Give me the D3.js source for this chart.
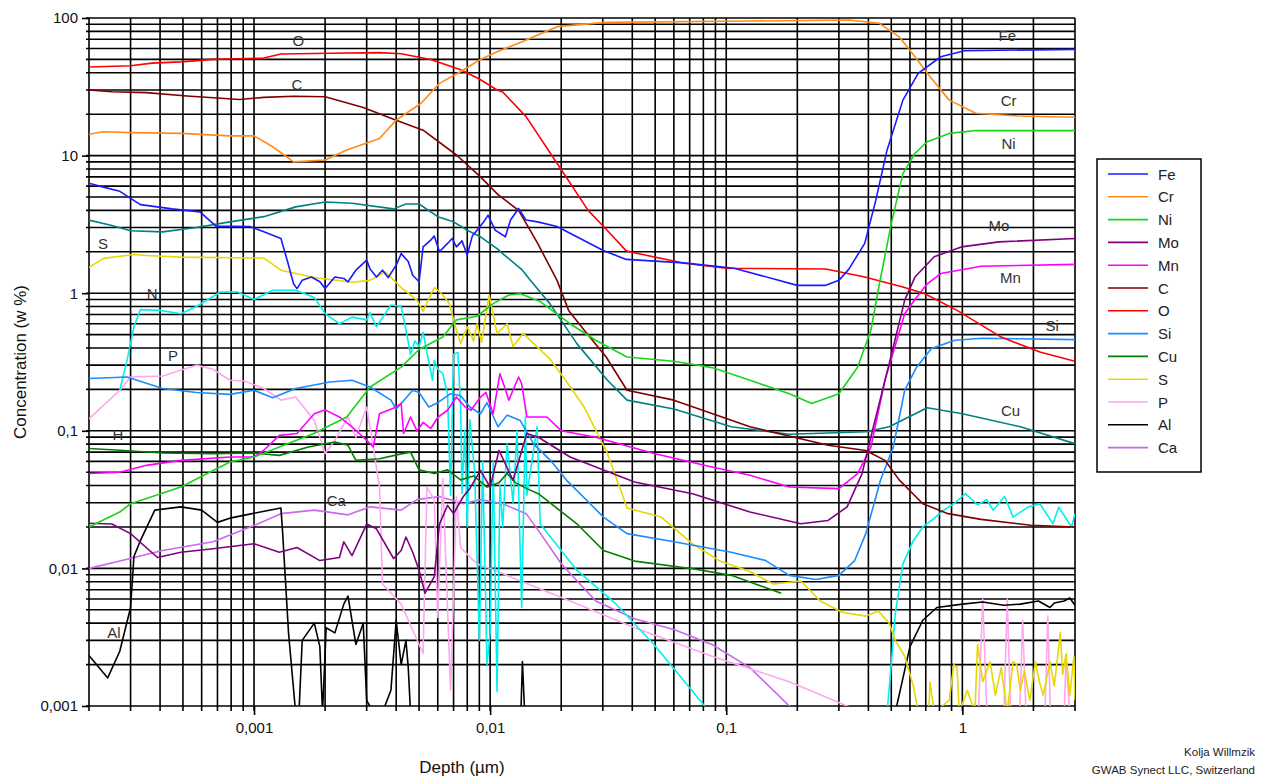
<!DOCTYPE html>
<html>
<head>
<meta charset="utf-8">
<script src="https://cdn.jsdelivr.net/npm/d3@7"></script>
<style>
  body { margin: 0; background: #fff; }
  text { font-family: Arial, "Liberation Sans", sans-serif; }
</style>
</head>
<body>
<svg id="chart" width="1265" height="778"></svg>
<script>
// tick labels (german decimal comma)
const xTicks = [0.001, 0.01, 0.1, 1];
const xTickLabels = ["0,001", "0,01", "0,1", "1"];
const yTicks = [0.001, 0.01, 0.1, 1, 10, 100];
const yTickLabels = ["0,001", "0,01", "0,1", "1", "10", "100"];

// series: [depth in µm, concentration in w %], null = gap
const fe = [[0.0002,6.3],[0.00023,5.9],[0.00027,5.5],[0.00033,4.4],[0.00045,4.1],[0.00059,3.9],[0.00069,3.07],[0.00096,3.05],[0.0011,2.8],[0.0013,2.5],[0.00138,1.75],[0.00147,1.17],[0.00152,1.08],[0.0016,1.24],[0.00175,1.31],[0.0019,1.21],[0.002,1.08],[0.0022,1.31],[0.0024,1.28],[0.0025,1.21],[0.0027,1.47],[0.003,1.74],[0.0031,1.5],[0.0033,1.31],[0.0035,1.47],[0.0037,1.3],[0.004,1.6],[0.0042,1.94],[0.0045,1.7],[0.0047,1.35],[0.005,1.21],[0.0052,2.17],[0.0056,2.43],[0.0058,2.6],[0.0061,2.0],[0.0066,2.3],[0.0069,2.5],[0.0072,2.17],[0.0076,2.4],[0.008,1.89],[0.0084,2.6],[0.0088,2.87],[0.0094,3.3],[0.0098,3.69],[0.0105,2.87],[0.0116,2.57],[0.0122,3.4],[0.0132,4.13],[0.0142,3.4],[0.0159,3.3],[0.0192,3.05],[0.03,2.05],[0.0377,1.76],[0.066,1.66],[0.108,1.52],[0.2,1.14],[0.264,1.14],[0.3,1.24],[0.33,1.49],[0.386,2.3],[0.43,4.75],[0.48,11],[0.56,25.3],[0.65,39.6],[0.81,52.3],[1.02,57.8],[3,59.2]];
const cr = [[0.0002,14.3],[0.00023,14.9],[0.0003,14.7],[0.00049,14.5],[0.00079,13.9],[0.001,13.9],[0.0012,11.6],[0.00147,9.0],[0.002,9.3],[0.00247,11],[0.0034,13.3],[0.004,18.1],[0.0051,24],[0.0061,33.5],[0.0077,41.9],[0.0091,50],[0.0107,56.9],[0.0132,65.5],[0.0192,86.5],[0.031,93],[0.125,95],[0.33,96.7],[0.445,91.5],[0.54,73],[0.63,52.3],[0.73,37.4],[0.88,25.3],[1.14,20.3],[1.72,19.4],[3,19]];
const ni = [[0.0002,0.02],[0.00027,0.0257],[0.0003,0.0295],[0.00049,0.039],[0.00079,0.0593],[0.001,0.0645],[0.00128,0.0762],[0.00179,0.0955],[0.00247,0.126],[0.0031,0.208],[0.0042,0.29],[0.005,0.39],[0.0063,0.48],[0.0072,0.64],[0.0088,0.68],[0.0103,0.84],[0.012,0.97],[0.0134,0.99],[0.0163,0.87],[0.0218,0.6],[0.028,0.455],[0.038,0.344],[0.06,0.32],[0.087,0.288],[0.126,0.233],[0.185,0.186],[0.23,0.158],[0.3,0.186],[0.36,0.29],[0.41,0.54],[0.44,1.05],[0.5,3.2],[0.56,7.4],[0.63,10.4],[0.71,12.6],[0.88,14.5],[1.14,15.2],[3,15.2]];
const mo = [[0.0002,0.0213],[0.00025,0.021],[0.0003,0.0179],[0.00039,0.012],[0.00049,0.0131],[0.00067,0.0139],[0.001,0.0151],[0.00128,0.0131],[0.00152,0.0142],[0.0019,0.0114],[0.0023,0.012],[0.0024,0.0156],[0.0026,0.0124],[0.003,0.021],[0.0033,0.0194],[0.0039,0.0118],[0.0042,0.0135],[0.0044,0.0169],[0.0047,0.0131],[0.005,0.0097],[0.0053,0.0066],[0.0058,0.0087],[0.0061,0.021],[0.0066,0.0287],[0.007,0.025],[0.0077,0.0333],[0.0082,0.038],[0.0091,0.0516],[0.01,0.039],[0.0109,0.072],[0.0125,0.0437],[0.0143,0.0955],[0.016,0.0898],[0.0218,0.0645],[0.0409,0.0424],[0.072,0.0349],[0.126,0.0257],[0.207,0.0211],[0.27,0.0223],[0.325,0.028],[0.376,0.0489],[0.42,0.107],[0.49,0.308],[0.57,0.89],[0.63,1.31],[0.76,1.84],[0.99,2.17],[1.43,2.36],[3,2.5]];
const mn = [[0.0002,0.0489],[0.00027,0.05],[0.00035,0.0561],[0.00049,0.061],[0.00079,0.0645],[0.001,0.0645],[0.0011,0.0722],[0.00128,0.0927],[0.00152,0.0955],[0.0018,0.133],[0.002,0.142],[0.0023,0.126],[0.0026,0.107],[0.003,0.0853],[0.0032,0.0762],[0.0034,0.133],[0.004,0.149],[0.0042,0.158],[0.0043,0.0955],[0.0046,0.126],[0.0049,0.1],[0.0052,0.115],[0.0056,0.104],[0.006,0.125],[0.0066,0.141],[0.0072,0.176],[0.0078,0.15],[0.0083,0.141],[0.0091,0.176],[0.0096,0.19],[0.0103,0.133],[0.011,0.26],[0.0115,0.21],[0.012,0.167],[0.0132,0.246],[0.0136,0.22],[0.0143,0.126],[0.0174,0.126],[0.02,0.1],[0.028,0.0898],[0.0494,0.0683],[0.087,0.0546],[0.126,0.0475],[0.185,0.039],[0.3,0.038],[0.36,0.0489],[0.41,0.0762],[0.47,0.233],[0.57,0.71],[0.63,0.9],[0.71,1.17],[0.81,1.39],[1.2,1.57],[3,1.62]];
const c = [[0.0002,30],[0.00025,29.1],[0.00035,28.7],[0.00052,27.1],[0.00087,25.6],[0.0011,26.5],[0.00147,27],[0.002,26.8],[0.0029,22.4],[0.004,18.1],[0.0052,15.3],[0.0072,10.1],[0.0091,7.0],[0.0108,5.2],[0.0132,4.0],[0.0159,2.3],[0.0192,1.24],[0.0215,0.75],[0.025,0.54],[0.031,0.344],[0.038,0.197],[0.06,0.167],[0.126,0.107],[0.27,0.0785],[0.39,0.072],[0.47,0.061],[0.54,0.044],[0.68,0.0295],[0.87,0.025],[1.2,0.0227],[1.95,0.0206],[3,0.02]];
const o = [[0.0002,44],[0.0003,45],[0.00037,47],[0.00049,48],[0.00067,50],[0.00085,50.6],[0.00109,51],[0.0013,54.7],[0.0021,55.4],[0.0034,56],[0.0042,55],[0.0056,50],[0.0075,42],[0.009,36],[0.0107,30],[0.0113,29],[0.0142,19.2],[0.0192,8.8],[0.026,4.0],[0.0313,2.87],[0.0377,2.03],[0.0407,1.97],[0.0664,1.65],[0.1,1.52],[0.264,1.5],[0.386,1.31],[0.56,1.11],[0.69,0.995],[0.95,0.75],[1.46,0.48],[2.13,0.374],[3,0.32]];
const si = [[0.0002,0.24],[0.00029,0.246],[0.00041,0.203],[0.00057,0.19],[0.00079,0.184],[0.001,0.197],[0.0012,0.174],[0.0015,0.203],[0.0021,0.226],[0.0026,0.233],[0.0031,0.208],[0.0038,0.167],[0.004,0.144],[0.0042,0.158],[0.0047,0.197],[0.005,0.19],[0.0055,0.149],[0.006,0.16],[0.0068,0.186],[0.0075,0.18],[0.0082,0.149],[0.0091,0.133],[0.0097,0.16],[0.0108,0.107],[0.0118,0.13],[0.0134,0.119],[0.0153,0.08],[0.018,0.061],[0.021,0.044],[0.0302,0.0236],[0.038,0.0179],[0.06,0.0156],[0.105,0.0131],[0.147,0.0114],[0.185,0.0089],[0.24,0.0083],[0.3,0.0089],[0.35,0.0114],[0.39,0.0179],[0.45,0.0437],[0.51,0.0762],[0.57,0.197],[0.64,0.29],[0.74,0.396],[0.93,0.455],[1.21,0.47],[3,0.46]];
const cu = [[0.0002,0.0743],[0.00027,0.0722],[0.00041,0.069],[0.00067,0.0683],[0.001,0.069],[0.00128,0.0663],[0.0017,0.0762],[0.0022,0.083],[0.0025,0.0785],[0.0027,0.061],[0.0034,0.0627],[0.0042,0.068],[0.0046,0.07],[0.005,0.052],[0.0058,0.049],[0.0066,0.052],[0.0075,0.044],[0.0085,0.047],[0.0097,0.039],[0.0109,0.042],[0.0118,0.049],[0.0128,0.042],[0.0143,0.038],[0.016,0.0349],[0.0233,0.0211],[0.0302,0.0135],[0.0409,0.0113],[0.072,0.00995],[0.105,0.0089],[0.171,0.0066]];
const teal = [[0.0002,3.4],[0.00025,3.1],[0.0003,2.84],[0.00041,2.79],[0.00057,3.0],[0.00079,3.3],[0.0011,3.6],[0.0015,4.24],[0.002,4.6],[0.0026,4.5],[0.0039,4.1],[0.0044,4.45],[0.005,4.45],[0.006,3.6],[0.007,3.3],[0.008,2.87],[0.0091,2.57],[0.0107,2.11],[0.0113,1.94],[0.0137,1.47],[0.0148,1.24],[0.0179,0.84],[0.0233,0.43],[0.0314,0.233],[0.038,0.167],[0.06,0.144],[0.105,0.107],[0.185,0.0944],[0.39,0.0985],[0.49,0.107],[0.71,0.147],[1.0,0.133],[1.76,0.107],[3,0.0807]];
const s = [[0.0002,1.54],[0.00023,1.79],[0.00031,1.91],[0.00035,1.88],[0.00049,1.83],[0.0011,1.8],[0.0013,1.47],[0.0018,1.3],[0.0026,1.2],[0.0031,1.24],[0.0036,1.43],[0.0042,1.1],[0.0049,0.89],[0.0052,0.74],[0.0058,1.1],[0.0062,1.0],[0.0067,0.85],[0.0072,0.54],[0.0075,0.43],[0.008,0.57],[0.0085,0.45],[0.0088,0.6],[0.0092,0.44],[0.0099,0.97],[0.0103,0.7],[0.0107,0.51],[0.0118,0.6],[0.0125,0.41],[0.0138,0.51],[0.0153,0.43],[0.018,0.33],[0.0218,0.21],[0.025,0.149],[0.0314,0.0683],[0.038,0.0275],[0.053,0.0236],[0.072,0.0151],[0.094,0.0113],[0.126,0.0095],[0.158,0.0077],[0.207,0.0081],[0.25,0.0058],[0.31,0.0048],[0.39,0.0045],[0.44,0.0049],[0.46,0.0045],[0.49,0.004],[0.52,0.003],[0.57,0.0023],[0.62,0.0014],[0.65,0.0009],[0.72,0.0009],[0.73,0.0015],[0.76,0.0009],[0.88,0.0011],[0.92,0.002],[0.95,0.0019],[0.97,0.0009],[1.05,0.0013],[1.13,0.0009],[1.16,0.0028],[1.22,0.0015],[1.31,0.0021],[1.38,0.0012],[1.46,0.0019],[1.55,0.0009],[1.64,0.0021],[1.7,0.002],[1.76,0.0013],[1.83,0.0018],[1.93,0.0011],[2.04,0.0021],[2.12,0.0015],[2.2,0.0012],[2.35,0.0021],[2.45,0.0014],[2.6,0.0034],[2.66,0.0017],[2.75,0.0024],[2.85,0.0012],[2.97,0.0023],[3,0.0011]];
const p = [[0.0002,0.122],[0.00027,0.197],[0.0003,0.246],[0.00041,0.25],[0.00057,0.3],[0.00067,0.28],[0.00079,0.233],[0.00091,0.23],[0.0011,0.203],[0.0013,0.167],[0.0015,0.176],[0.0018,0.119],[0.002,0.0683],[0.0022,0.0853],[0.0025,0.126],[0.0027,0.0898],[0.003,0.149],[0.0032,0.0762],[0.0034,0.039],[0.0035,0.0077],[0.0042,0.0055],[0.005,0.0028],[0.0052,0.0024],[0.0054,0.039],[0.0058,0.0316],[0.006,0.0044],[0.0063,0.045],[0.0068,0.0013],[0.0072,0.0333],[0.0075,0.0142],[0.0085,0.0114],[0.0091,0.0105],[0.0103,0.0098],[0.0132,0.0082],[0.0218,0.0058],[0.0409,0.0037],[0.087,0.0023],[0.185,0.0015],[0.325,0.001],[0.4,0.0009],null,[1.17,0.0009],[1.22,0.006],[1.27,0.0009],[1.5,0.0009],[1.55,0.006],[1.6,0.0009],[1.75,0.0009],[1.8,0.0042],[1.86,0.0009],[2.24,0.0009],[2.3,0.0045],[2.36,0.0009],[2.7,0.0009],[2.75,0.0022],[2.85,0.0009]];
const al = [[0.0002,0.00233],[0.00024,0.0016],[0.00027,0.0025],[0.0003,0.0052],[0.00031,0.0122],[0.00033,0.0159],[0.00038,0.0265],[0.00049,0.028],[0.0006,0.0265],[0.0007,0.0216],[0.0008,0.0233],[0.0013,0.0275],[0.00132,0.0189],[0.0014,0.0034],[0.0015,0.0009],[0.00155,0.0009],[0.0016,0.003],[0.0018,0.004],[0.0019,0.0027],[0.00195,0.0009],[0.002,0.0024],[0.00202,0.0037],[0.0022,0.0034],[0.0024,0.0055],[0.0025,0.0063],[0.0027,0.0028],[0.0029,0.004],[0.003,0.0011],[0.0032,0.0009],[0.0035,0.0009],[0.0038,0.0013],[0.004,0.0042],[0.0042,0.002],[0.0044,0.003],[0.0045,0.0019],[0.0046,0.0009],null,[0.0135,0.0009],[0.0137,0.0021],[0.014,0.0009],null,[0.52,0.0009],[0.6,0.0027],[0.68,0.0042],[0.78,0.0052],[1.0,0.0055],[1.22,0.0057],[1.5,0.0054],[1.76,0.0055],[2.1,0.0058],[2.35,0.0052],[2.45,0.0056],[2.7,0.0058],[2.85,0.0061],[3,0.0054]];
const ca = [[0.0002,0.01],[0.00027,0.0113],[0.00041,0.0135],[0.00067,0.0156],[0.001,0.0205],[0.0013,0.025],[0.0018,0.0265],[0.0025,0.0245],[0.0031,0.028],[0.0042,0.0265],[0.0049,0.0316],[0.0061,0.0333],[0.0077,0.0295],[0.0091,0.0316],[0.0113,0.0295],[0.0142,0.025],[0.016,0.0189],[0.02,0.0108],[0.028,0.0058],[0.0409,0.0043],[0.06,0.0036],[0.087,0.0028],[0.126,0.0019],[0.185,0.001],[0.2,0.0009]];
const n = [[0.00027,0.197],[0.00029,0.326],[0.00031,0.57],[0.00033,0.76],[0.0004,0.75],[0.00049,0.71],[0.00057,0.8],[0.00072,1.02],[0.00085,1.02],[0.001,0.9],[0.0012,1.05],[0.0015,1.05],[0.0018,0.93],[0.002,0.71],[0.0023,0.6],[0.0026,0.67],[0.003,0.64],[0.0031,0.72],[0.0033,0.57],[0.0038,0.82],[0.0042,0.8],[0.0044,0.54],[0.0046,0.36],[0.0048,0.45],[0.005,0.41],[0.0052,0.52],[0.0054,0.37],[0.0057,0.233],[0.0058,0.326],[0.006,0.28],[0.0063,0.26],[0.0066,0.185],[0.0068,0.034],[0.007,0.36],[0.0073,0.37],[0.0075,0.15],[0.0076,0.035],[0.0078,0.1],[0.008,0.02],[0.0082,0.12],[0.0086,0.05],[0.009,0.003],[0.0093,0.06],[0.0097,0.002],[0.01,0.0034],[0.0103,0.06],[0.0107,0.00127],[0.011,0.04],[0.0113,0.02],[0.0118,0.08],[0.0125,0.03],[0.013,0.1],[0.0136,0.0052],[0.0141,0.126],[0.0143,0.034],[0.0158,0.107],[0.0163,0.021],[0.02,0.0135],[0.0233,0.0097],[0.0338,0.0056],[0.0494,0.0028],[0.081,0.001],[0.085,0.0009],null,[0.48,0.0009],[0.5,0.002],[0.52,0.0047],[0.56,0.0108],[0.62,0.0159],[0.68,0.02],[0.75,0.0227],[0.83,0.0264],[0.92,0.0295],[1.03,0.0349],[1.16,0.029],[1.27,0.0316],[1.35,0.0265],[1.51,0.0333],[1.64,0.0236],[1.9,0.0279],[2.13,0.0295],[2.42,0.0211],[2.56,0.0279],[2.9,0.02],[3,0.025]];

// name, data, colour, shown in legend
const series = [
  {name: "Fe", data: fe, color: "#1a1aff", legend: true},
  {name: "Cr", data: cr, color: "#ff8c1a", legend: true},
  {name: "Ni", data: ni, color: "#1ad41a", legend: true},
  {name: "Mo", data: mo, color: "#800080", legend: true},
  {name: "Mn", data: mn, color: "#ff00ff", legend: true},
  {name: "C", data: c, color: "#800000", legend: true},
  {name: "O", data: o, color: "#ff0000", legend: true},
  {name: "Si", data: si, color: "#1a8cff", legend: true},
  {name: "Cu", data: cu, color: "#008000", legend: true},
  {name: "S", data: s, color: "#e6d800", legend: true},
  {name: "P", data: p, color: "#ffa6f0", legend: true},
  {name: "Al", data: al, color: "#000000", legend: true},
  {name: "Ca", data: ca, color: "#cc66ee", legend: true},
  {name: "N", data: n, color: "#00f0f0", legend: false},
  {name: "teal", data: teal, color: "#008080", legend: false}
];

// element names written inside the plot: [text, depth, conc]
const inlineLabels = [["O",0.00154,69],["C",0.00152,32.6],["Fe",1.55,75],["Cr",1.57,25.3],["Ni",1.57,12.3],["Mo",1.43,3.12],["Mn",1.6,1.31],["Si",2.4,0.585],["Cu",1.6,0.141],["S",0.000229,2.31],["N",0.00037,1.0],["P",0.000454,0.354],["H",0.000265,0.094],["Ca",0.00223,0.0313],["Al",0.000255,0.00343]];

const svg = d3.select("#chart");
const plotLeft = 89, plotRight = 1075, plotTop = 18, plotBottom = 706;

const x = d3.scaleLog().domain([0.0002, 3]).range([plotLeft, plotRight]);
const y = d3.scaleLog().domain([0.001, 100]).range([plotBottom, plotTop]);

// every 1..9 step of each decade inside the domain
function decadeSteps(lo, hi) {
  const out = [];
  for (let e = -5; e <= 3; e++) {
    for (let k = 1; k <= 9; k++) {
      const v = +(k * Math.pow(10, e)).toPrecision(3);
      if (v >= lo * 0.9999 && v <= hi * 1.0001) out.push(v);
    }
  }
  return out;
}
const xGridVals = decadeSteps(0.0002, 3);
const yGridVals = decadeSteps(0.001, 100);

svg.append("rect").attr("width", 1265).attr("height", 778).attr("fill", "#fff");

// grid (minor ticks poke out a little past the axes)
const grid = svg.append("g").attr("stroke", "#000").attr("stroke-width", 1.6);
grid.selectAll("line.v").data(xGridVals).enter().append("line")
  .attr("x1", d => x(d)).attr("x2", d => x(d))
  .attr("y1", plotTop).attr("y2", plotBottom + 5);
grid.selectAll("line.h").data(yGridVals).enter().append("line")
  .attr("y1", d => y(d)).attr("y2", d => y(d))
  .attr("x1", plotLeft - 3).attr("x2", plotRight);

// axes: major ticks with labels
const xAxis = svg.append("g").attr("transform", `translate(0,${plotBottom})`)
  .call(d3.axisBottom(x).tickValues(xTicks).tickFormat((d, i) => xTickLabels[i]).tickSize(9).tickPadding(7));
xAxis.select(".domain").remove();
xAxis.selectAll("line").attr("stroke", "#000").attr("stroke-width", 1.6);
xAxis.selectAll("text").attr("font-size", 15).attr("fill", "#111")
  .attr("font-family", "Arial, 'Liberation Sans', sans-serif");

const yAxis = svg.append("g").attr("transform", `translate(${plotLeft},0)`)
  .call(d3.axisLeft(y).tickValues(yTicks).tickFormat((d, i) => yTickLabels[i]).tickSize(7).tickPadding(4));
yAxis.select(".domain").remove();
yAxis.selectAll("line").attr("stroke", "#000").attr("stroke-width", 1.6);
yAxis.selectAll("text").attr("font-size", 15).attr("fill", "#111")
  .attr("font-family", "Arial, 'Liberation Sans', sans-serif");

// clip for the curves
svg.append("clipPath").attr("id", "plotClip").append("rect")
  .attr("x", plotLeft).attr("y", plotTop - 1).attr("width", plotRight - plotLeft).attr("height", plotBottom - plotTop + 1);

const line = d3.line()
  .defined(d => d !== null)
  .x(d => x(d[0]))
  .y(d => y(d[1]));

const curves = svg.append("g").attr("clip-path", "url(#plotClip)");
// draw back to front so the dense lines sit like in the original
const drawOrder = ["Ca","P","Al","N","S","Cu","teal","Si","Mn","Mo","C","O","Ni","Cr","Fe"];
drawOrder.forEach(name => {
  const sr = series.find(q => q.name === name);
  curves.append("path")
    .datum(sr.data)
    .attr("fill", "none")
    .attr("stroke", sr.color)
    .attr("stroke-width", 1.6)
    .attr("stroke-linejoin", "round")
    .attr("d", line);
});

// inline element labels
svg.append("g").selectAll("text").data(inlineLabels).enter().append("text")
  .attr("x", d => x(d[1])).attr("y", d => y(d[2]))
  .attr("text-anchor", "middle").attr("dominant-baseline", "central")
  .attr("font-size", 15).attr("fill", "#333")
  .text(d => d[0]);

// axis titles
svg.append("text").attr("x", 462).attr("y", 773).attr("text-anchor", "middle")
  .attr("font-size", 17).attr("fill", "#111").text("Depth (µm)");
svg.append("text").attr("transform", "translate(26,362) rotate(-90)")
  .attr("text-anchor", "middle").attr("font-size", 17).attr("fill", "#111")
  .text("Concentration (w %)");

// credits
svg.append("text").attr("x", 1255).attr("y", 756).attr("text-anchor", "end")
  .attr("font-size", 11.5).attr("fill", "#222").text("Kolja Willmzik");
svg.append("text").attr("x", 1255).attr("y", 774).attr("text-anchor", "end")
  .attr("font-size", 11.5).attr("fill", "#222").text("GWAB Synect LLC, Switzerland");

// legend
const legendItems = series.filter(q => q.legend);
const lg = svg.append("g").attr("transform", "translate(1097,159)");
lg.append("rect").attr("width", 104).attr("height", 313)
  .attr("fill", "#fff").attr("stroke", "#000").attr("stroke-width", 1.5);
const rows = lg.selectAll("g.row").data(legendItems).enter().append("g")
  .attr("transform", (d, i) => `translate(0,${15 + i * 22.8})`);
rows.append("line").attr("x1", 11).attr("x2", 51).attr("y1", 0).attr("y2", 0)
  .attr("stroke", d => d.color).attr("stroke-width", 1.6);
rows.append("text").attr("x", 61).attr("y", 0).attr("dominant-baseline", "central")
  .attr("font-size", 15).attr("fill", "#222").text(d => d.name);
</script>
</body>
</html>
